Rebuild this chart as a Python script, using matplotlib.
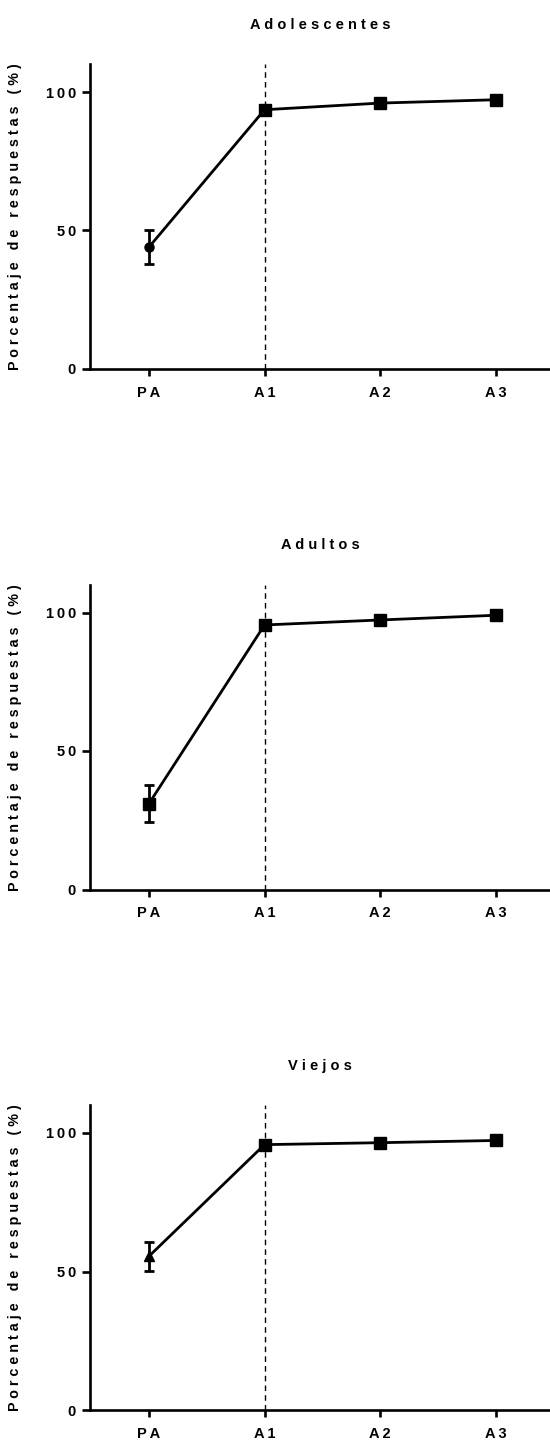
import numpy as np
import matplotlib
matplotlib.use("Agg")
import matplotlib.pyplot as plt

plt.rcParams['font.family'] = ['Liberation Sans', 'DejaVu Sans']
plt.rcParams['font.weight'] = 'bold'

# time points and group means / SEM (percentage of responses)
labels = ['PA', 'A1', 'A2', 'A3']
groups = ['Adolescentes', 'Adultos', 'Viejos']

adolescentes = [44.0, 93.6, 96.0, 97.2]
adolescentes_err = [6.1, 0.0, 1.2, 0.0]
adultos = [31.0, 95.5, 97.3, 99.0]
adultos_err = [6.7, 0.0, 0.0, 0.0]
viejos = [55.5, 95.8, 96.5, 97.3]
viejos_err = [5.2, 1.3, 0.6, 1.4]

markers = [['o', 's', 's', 's'],
           ['s', 's', 's', 's'],
           ['^', 's', 's', 's']]
marker_sizes = {'o': 6.5, 's': 9.3, '^': 6.5}

means = [adolescentes, adultos, viejos]
errs = [adolescentes_err, adultos_err, viejos_err]


def spaced(s, sep=' '):
    return sep.join(s)


W, H = 550, 1444
fig = plt.figure(figsize=(W / 100, H / 100), dpi=100)

# x-axis baselines (pixels from top) for the three panels
bottoms_px = [369, 889.5, 1410]
ax_left, ax_right = 90, 550
ax_h = 304.7
title_offset = 344  # title centre above the x-axis, px

x = np.arange(len(labels))

for k, name in enumerate(groups):
    b = bottoms_px[k]
    ax = fig.add_axes([ax_left / W, (H - b) / H, (ax_right - ax_left) / W, ax_h / H])

    y = np.array(means[k])
    e = np.array(errs[k])

    ax.axvline(1, color='black', lw=1.0, dashes=(4, 3), zorder=1)
    ax.plot(x, y, color='black', lw=2.0, zorder=2)
    for i in range(len(x)):
        m = markers[k][i]
        ax.errorbar(x[i], y[i], yerr=e[i] if e[i] > 0 else None, fmt=m,
                    color='black', ms=marker_sizes[m], elinewidth=2.0,
                    capsize=3.3, capthick=2.0, zorder=3)

    ax.set_xlim(-0.51, 3.47)
    ax.set_ylim(0, 110)
    ax.set_xticks(x)
    ax.set_xticklabels([spaced(l, '\u2009') for l in labels])
    ax.set_yticks([0, 50, 100])
    ax.set_yticklabels([spaced(str(v), '\u2009') for v in [0, 50, 100]])

    for side in ['top', 'right']:
        ax.spines[side].set_visible(False)
    for side in ['left', 'bottom']:
        ax.spines[side].set_linewidth(1.9)

    ax.tick_params(axis='y', length=6, width=1.9, pad=4, labelsize=10.5)
    ax.tick_params(axis='x', length=5, width=1.9, pad=7, labelsize=10.5)

    ax.set_ylabel(spaced('Porcentaje de respuestas (%)'), fontsize=10.3,
                  fontweight='bold')
    ax.yaxis.set_label_coords(-0.148, 0.5)

    ax.text(0.5, title_offset / ax_h, spaced(name),
            transform=ax.transAxes, ha='center', va='center',
            fontsize=10.5, fontweight='bold')

fig.savefig('out.png', dpi=100)
